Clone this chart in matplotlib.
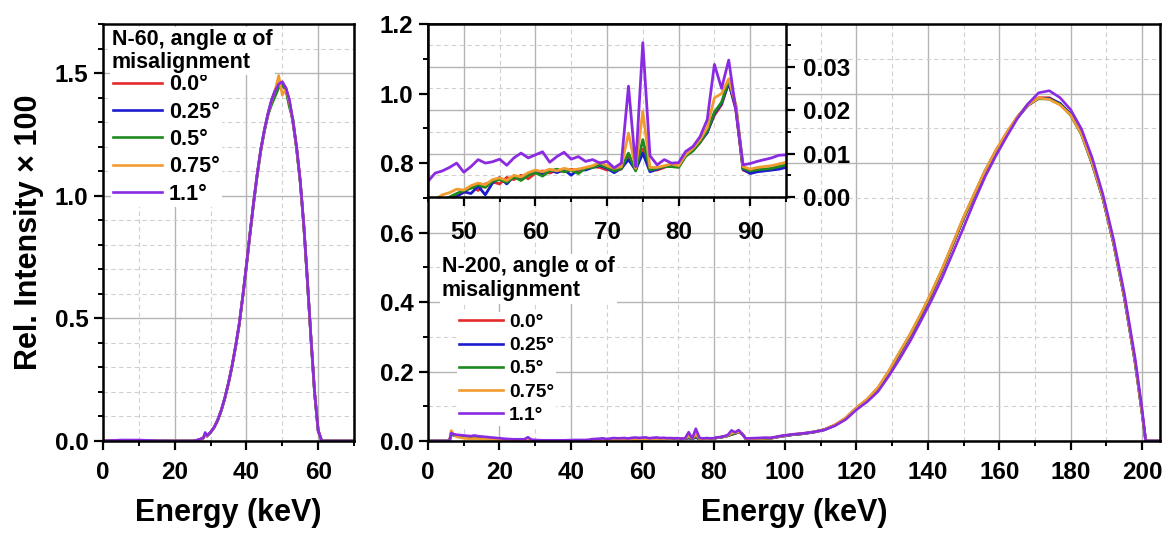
import numpy as np
import matplotlib.pyplot as plt
from matplotlib.ticker import MultipleLocator, FormatStrFormatter

plt.rcParams['font.family'] = ['Liberation Sans', 'DejaVu Sans']
plt.rcParams['font.weight'] = 'bold'
plt.rcParams['axes.labelweight'] = 'bold'

labels = ['0.0°', '0.25°', '0.5°', '0.75°', '1.1°']
colors = ['#e52a2a', '#1c1ccf', '#1e8a1e', '#f29b30', '#8a2be2']

# ---- N-60 spectra (left panel) ----
e60 = np.concatenate([[0, 5, 10, 15, 20, 25, 26, 27, 28, 28.5, 29], np.arange(30, 62), [65, 70]])

n60_red = [0, 0.002, 0.002, 0, 0, 0, 0.002, 0.006, 0.012, 0.03, 0.02,
           0.035, 0.055, 0.085, 0.125, 0.175, 0.235, 0.305, 0.385, 0.475, 0.59,
           0.715, 0.845, 0.97, 1.085, 1.185, 1.265, 1.33, 1.385, 1.425, 1.45,
           1.455, 1.44, 1.385, 1.30, 1.195, 1.06, 0.88, 0.655, 0.42, 0.2,
           0.045, 0.0, 0, 0]
n60_blue = [0, 0.002, 0.001, 0, 0, 0, 0.002, 0.006, 0.012, 0.028, 0.02,
            0.036, 0.056, 0.086, 0.126, 0.177, 0.237, 0.307, 0.388, 0.478, 0.593,
            0.718, 0.848, 0.973, 1.088, 1.188, 1.268, 1.335, 1.39, 1.43, 1.455,
            1.45, 1.435, 1.38, 1.295, 1.19, 1.055, 0.875, 0.65, 0.415, 0.195,
            0.04, 0.0, 0, 0]
n60_green = [0, 0.001, 0.002, 0, 0, 0, 0.002, 0.006, 0.012, 0.03, 0.02,
             0.035, 0.055, 0.085, 0.125, 0.176, 0.236, 0.306, 0.386, 0.476, 0.591,
             0.712, 0.842, 0.967, 1.082, 1.182, 1.262, 1.328, 1.37, 1.405, 1.44,
             1.45, 1.43, 1.36, 1.31, 1.19, 1.058, 0.878, 0.652, 0.418, 0.198,
             0.042, 0.0, 0, 0]
n60_orange = [0, 0.002, 0.002, 0, 0, 0, 0.002, 0.006, 0.012, 0.03, 0.02,
              0.036, 0.056, 0.086, 0.126, 0.176, 0.236, 0.306, 0.387, 0.477, 0.592,
              0.716, 0.846, 0.971, 1.086, 1.186, 1.266, 1.332, 1.386, 1.43, 1.49,
              1.41, 1.435, 1.383, 1.298, 1.193, 1.058, 0.878, 0.653, 0.418, 0.198,
              0.043, 0.0, 0, 0]
n60_purple = [0, 0.004, 0.004, 0.001, 0, 0, 0.003, 0.007, 0.013, 0.035, 0.022,
              0.036, 0.056, 0.086, 0.126, 0.177, 0.237, 0.307, 0.388, 0.478, 0.592,
              0.716, 0.846, 0.972, 1.087, 1.187, 1.267, 1.333, 1.388, 1.428, 1.455,
              1.465, 1.44, 1.39, 1.302, 1.198, 1.062, 0.882, 0.657, 0.422, 0.202,
              0.045, 0.0, 0, 0]

# ---- N-200 spectra (right panel + inset) ----
e200_low = [0, 5, 6, 6.5, 7, 8, 10, 12, 13, 14, 16, 18, 20, 22, 24, 26, 27, 28,
            28.5, 29, 30, 32, 35, 38, 41, 44]
e200_mid = np.arange(45, 96, 1.0)
e200_high = np.concatenate([np.arange(96, 199, 3), [200, 201, 205]])

red_low = [0, 0, 0, 0.020, 0.018, 0.016, 0.013, 0.011, 0.012, 0.010, 0.008, 0.006, 0.004,
           0.003, 0.002, 0.002, 0.002, 0.007, 0.004, 0.002, 0.001, 0.0005, 0.0, -0.001, -0.002, -0.003]
blue_low = [0, 0, 0, 0.019, 0.017, 0.015, 0.013, 0.012, 0.013, 0.011, 0.008, 0.006, 0.004,
            0.003, 0.002, 0.002, 0.002, 0.006, 0.003, 0.002, 0.001, 0.0, -0.001, -0.002, -0.003, -0.004]
green_low = [0, 0, 0, 0.020, 0.018, 0.015, 0.012, 0.011, 0.012, 0.010, 0.008, 0.006, 0.004,
             0.003, 0.002, 0.002, 0.002, 0.007, 0.004, 0.002, 0.001, 0.0, -0.0005, -0.001, -0.002, -0.003]
orange_low = [0, 0, 0, 0.030, 0.022, 0.012, 0.008, 0.006, 0.007, 0.006, 0.005, 0.004, 0.003,
              0.002, 0.002, 0.002, 0.002, 0.006, 0.003, 0.002, 0.001, 0.001, 0.0, 0.0, -0.0005, -0.001]
purple_low = [0, 0, 0, 0.023, 0.020, 0.018, 0.016, 0.014, 0.016, 0.014, 0.012, 0.010, 0.008,
              0.006, 0.005, 0.005, 0.005, 0.011, 0.007, 0.004, 0.003, 0.002, 0.002, 0.002, 0.003, 0.003]

red_mid = [-0.003, -0.002, -0.0015, -0.0005, 0.0005, 0.0010, 0.0025, 0.0015, 0.0030, 0.0035,
           0.0030, 0.0045, 0.0040, 0.0050, 0.0042, 0.0055, 0.0060, 0.0055, 0.0062, 0.0058,
           0.0064, 0.0060, 0.0066, 0.0070, 0.0068, 0.0062, 0.0066, 0.0064, 0.0093, 0.0062,
           0.0110, 0.0063, 0.0062, 0.0068, 0.0074, 0.0070, 0.0095, 0.0107, 0.0125, 0.0150,
           0.0188, 0.0212, 0.0265, 0.0200, 0.0062, 0.0055, 0.0060, 0.0061, 0.0063, 0.0066,
           0.0072]
blue_mid = [-0.004, -0.003, -0.002, -0.001, 0.0, 0.0012, 0.0008, 0.0025, 0.0005, 0.0032,
            0.0045, 0.0030, 0.0048, 0.0040, 0.0052, 0.0058, 0.0052, 0.0062, 0.0056, 0.0063,
            0.0050, 0.0064, 0.0062, 0.0068, 0.0072, 0.0066, 0.0056, 0.0066, 0.0086, 0.0062,
            0.0101, 0.0058, 0.0064, 0.0070, 0.0072, 0.0070, 0.0096, 0.0108, 0.0127, 0.0148,
            0.0192, 0.0215, 0.0262, 0.0205, 0.0064, 0.0054, 0.0058, 0.0060, 0.0062, 0.0064,
            0.0068]
green_mid = [-0.003, -0.002, -0.001, 0.0, 0.0008, 0.0015, 0.0020, 0.0028, 0.0022, 0.0036,
             0.0040, 0.0034, 0.0046, 0.0038, 0.0050, 0.0056, 0.0048, 0.0060, 0.0064, 0.0058,
             0.0062, 0.0054, 0.0066, 0.0068, 0.0074, 0.0068, 0.0060, 0.0066, 0.0101, 0.0060,
             0.0132, 0.0062, 0.0066, 0.0070, 0.0070, 0.0068, 0.0094, 0.0106, 0.0126, 0.0152,
             0.0195, 0.0218, 0.0268, 0.0210, 0.0066, 0.0060, 0.0063, 0.0064, 0.0066, 0.0070,
             0.0074]
orange_mid = [-0.001, -0.0005, 0.0005, 0.0010, 0.0018, 0.0016, 0.0026, 0.0032, 0.0028, 0.0040,
              0.0044, 0.0038, 0.0050, 0.0046, 0.0056, 0.0062, 0.0058, 0.0064, 0.0060, 0.0066,
              0.0062, 0.0064, 0.0068, 0.0072, 0.0080, 0.0072, 0.0066, 0.0070, 0.0147, 0.0066,
              0.0197, 0.0068, 0.0068, 0.0072, 0.0076, 0.0072, 0.0098, 0.0112, 0.0132, 0.0160,
              0.0228, 0.0238, 0.0272, 0.0212, 0.0070, 0.0064, 0.0068, 0.0070, 0.0072, 0.0076,
              0.0080]
purple_mid = [0.0036, 0.0055, 0.0060, 0.0068, 0.0078, 0.0057, 0.0070, 0.0086, 0.0078, 0.0081,
              0.0087, 0.0073, 0.0090, 0.0101, 0.0090, 0.0097, 0.0104, 0.0080, 0.0093, 0.0103,
              0.0087, 0.0093, 0.0082, 0.0086, 0.0078, 0.0082, 0.0067, 0.0078, 0.0255, 0.0070,
              0.0355, 0.0095, 0.0074, 0.0086, 0.0078, 0.0079, 0.0105, 0.0116, 0.0139, 0.0178,
              0.0305, 0.0250, 0.0315, 0.0200, 0.0074, 0.0077, 0.0082, 0.0086, 0.0090, 0.0096,
              0.0097]

red_high = [0.008, 0.014, 0.018, 0.021, 0.026, 0.033, 0.046, 0.065, 0.094, 0.118,
            0.150, 0.197, 0.250, 0.302, 0.360, 0.422, 0.490, 0.565, 0.640, 0.708,
            0.775, 0.833, 0.885, 0.932, 0.968, 0.988, 0.988, 0.970, 0.940, 0.885,
            0.800, 0.700, 0.570, 0.415, 0.230, 0.080, 0.0, 0.0]
blue_high = [0.008, 0.013, 0.018, 0.021, 0.025, 0.032, 0.045, 0.065, 0.095, 0.119,
             0.152, 0.199, 0.252, 0.304, 0.362, 0.425, 0.493, 0.567, 0.642, 0.710,
             0.777, 0.835, 0.884, 0.930, 0.965, 0.986, 0.986, 0.972, 0.940, 0.884,
             0.798, 0.698, 0.568, 0.413, 0.228, 0.078, 0.0, 0.0]
green_high = [0.008, 0.014, 0.018, 0.021, 0.026, 0.033, 0.046, 0.066, 0.095, 0.119,
              0.151, 0.199, 0.253, 0.306, 0.364, 0.426, 0.494, 0.568, 0.642, 0.709,
              0.776, 0.832, 0.883, 0.931, 0.969, 0.985, 0.984, 0.969, 0.937, 0.882,
              0.797, 0.698, 0.569, 0.414, 0.229, 0.079, 0.0, 0.0]
orange_high = [0.008, 0.014, 0.019, 0.022, 0.026, 0.033, 0.047, 0.067, 0.096, 0.121,
               0.154, 0.201, 0.255, 0.307, 0.366, 0.428, 0.496, 0.570, 0.645, 0.712,
               0.778, 0.836, 0.887, 0.932, 0.966, 0.987, 0.983, 0.967, 0.938, 0.883,
               0.800, 0.700, 0.571, 0.416, 0.231, 0.080, 0.0, 0.0]
purple_high = [0.009, 0.015, 0.019, 0.022, 0.026, 0.032, 0.044, 0.062, 0.090, 0.113,
               0.142, 0.186, 0.235, 0.287, 0.345, 0.405, 0.470, 0.542, 0.615, 0.690,
               0.760, 0.820, 0.875, 0.927, 0.970, 1.002, 1.008, 0.988, 0.953, 0.898,
               0.815, 0.710, 0.580, 0.425, 0.240, 0.090, 0.0, 0.0]

n60 = [n60_red, n60_blue, n60_green, n60_orange, n60_purple]
e200 = np.concatenate([e200_low, e200_mid, e200_high])
n200 = [np.concatenate([a, b, c]) for a, b, c in [
    (red_low, red_mid, red_high), (blue_low, blue_mid, blue_high),
    (green_low, green_mid, green_high), (orange_low, orange_mid, orange_high),
    (purple_low, purple_mid, purple_high)]]

W, H = 1170, 539
fig = plt.figure(figsize=(W / 100, H / 100), dpi=100)

def px(x0, y0, x1, y1):
    # pixel box -> figure fraction [left, bottom, width, height]
    return [x0 / W, 1 - y1 / H, (x1 - x0) / W, (y1 - y0) / H]

def style(ax, fs=17.5):
    for s in ax.spines.values():
        s.set_linewidth(1.8)
    ax.tick_params(which='major', direction='out', length=6.5, width=1.6, labelsize=fs, pad=4)
    ax.tick_params(which='minor', direction='out', length=3.5, width=1.4)
    ax.grid(which='major', color='#b4b4b4', lw=1.0, ls='-')
    ax.grid(which='minor', color='#d0d0d0', lw=0.8, ls=(0, (4, 3)))
    ax.set_axisbelow(True)

ax1 = fig.add_axes(px(103, 24, 354, 441))
ax2 = fig.add_axes(px(428, 24, 1160, 441))
ax3 = fig.add_axes(px(428, 24, 786, 197))

# left panel
for y, c, l in zip(n60, colors, labels):
    ax1.plot(e60, y, color=c, lw=1.9, label=l)
ax1.set_xlim(0, 70)
ax1.set_ylim(0, 1.7)
ax1.set_xticks([0, 20, 40, 60])
ax1.xaxis.set_minor_locator(MultipleLocator(10))
ax1.set_yticks([0, 0.5, 1.0, 1.5])
ax1.yaxis.set_minor_locator(MultipleLocator(0.1))
ax1.yaxis.set_major_formatter(FormatStrFormatter('%.1f'))
style(ax1)
ax1.tick_params(axis='x', pad=8)
ax1.set_xlabel('Energy (keV)', fontsize=22, labelpad=10)
ax1.set_ylabel('Rel. Intensity × 100', fontsize=22, labelpad=8)
ax1.text(0.035, 0.988, 'N-60, angle α of\nmisalignment', transform=ax1.transAxes,
         fontsize=15.5, va='top', ha='left', linespacing=1.1,
         bbox=dict(facecolor='white', edgecolor='none', pad=1.5), zorder=6)
ax1.legend(loc='upper left', bbox_to_anchor=(0.03, 0.885), fontsize=15.5, frameon=True,
           facecolor='white', edgecolor='none', framealpha=1, fancybox=False,
           handlelength=2.3, handletextpad=0.3, labelspacing=0.3, borderpad=0.1,
           borderaxespad=0)

# main right panel
for y, c, l in zip(n200, colors, labels):
    ax2.plot(e200, y, color=c, lw=1.9, label=l)
ax2.set_xlim(0, 205)
ax2.set_ylim(0, 1.2)
ax2.set_xticks(np.arange(0, 201, 20))
ax2.xaxis.set_minor_locator(MultipleLocator(10))
ax2.set_yticks(np.arange(0, 1.21, 0.2))
ax2.yaxis.set_minor_locator(MultipleLocator(0.1))
ax2.yaxis.set_major_formatter(FormatStrFormatter('%.1f'))
style(ax2)
ax2.tick_params(axis='x', pad=8)
ax2.set_xlabel('Energy (keV)', fontsize=22, labelpad=10)
ax2.text(0.019, 0.443, 'N-200, angle α of\nmisalignment', transform=ax2.transAxes,
         fontsize=15.5, va='top', ha='left', linespacing=1.2,
         bbox=dict(facecolor='white', edgecolor='none', pad=1.5), zorder=6)
ax2.legend(loc='upper left', bbox_to_anchor=(0.04, 0.31), fontsize=13.8, frameon=True,
           facecolor='white', edgecolor='none', framealpha=1, fancybox=False,
           handlelength=2.3, handletextpad=0.3, labelspacing=0.3, borderpad=0.1,
           borderaxespad=0)

# inset
for y, c in zip(n200, colors):
    ax3.plot(e200, y, color=c, lw=2.0)
ax3.set_xlim(45, 95)
ax3.set_ylim(0, 0.0398)
ax3.set_xticks([50, 60, 70, 80, 90])
ax3.xaxis.set_minor_locator(MultipleLocator(5))
ax3.set_yticks([0, 0.01, 0.02, 0.03])
ax3.yaxis.set_minor_locator(MultipleLocator(0.005))
ax3.yaxis.set_major_formatter(FormatStrFormatter('%.2f'))
ax3.set_facecolor('white')
style(ax3)
ax3.yaxis.tick_right()
ax3.tick_params(which='both', left=False, right=True)
ax3.tick_params(axis='x', pad=11)
ax3.tick_params(axis='y', pad=6)

fig.savefig('out.png', dpi=100)
